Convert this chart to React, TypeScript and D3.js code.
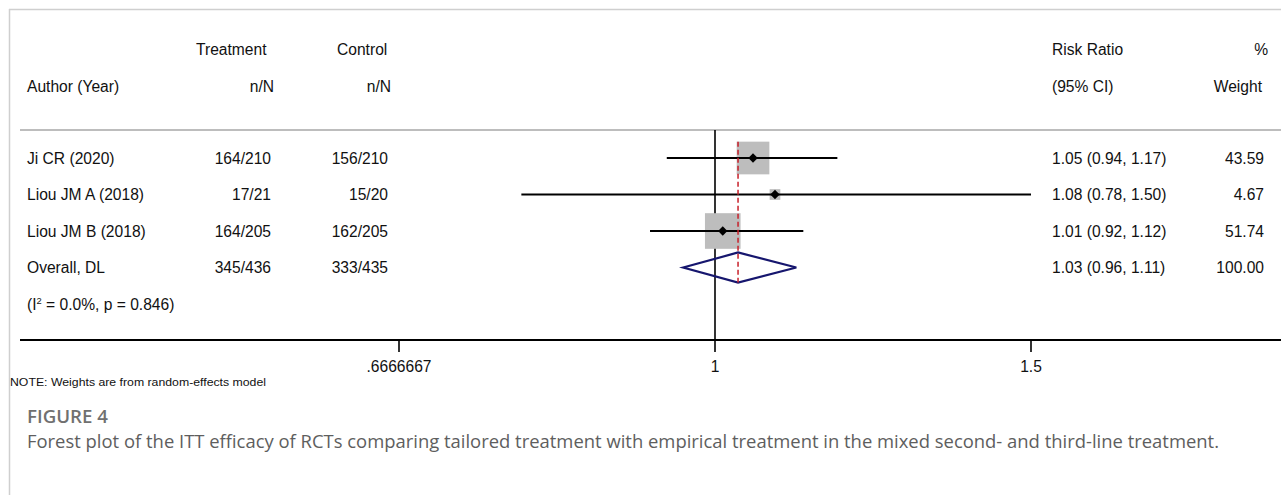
import React from "react";
import * as d3 from "d3";

// Study-level data
const studies = ["Ji CR (2020)", "Liou JM A (2018)", "Liou JM B (2018)"];
const treatmentNN = ["164/210", "17/21", "164/205"];
const controlNN = ["156/210", "15/20", "162/205"];
const riskRatio = [1.05, 1.08, 1.01];
const ciLower = [0.94, 0.78, 0.92];
const ciUpper = [1.17, 1.5, 1.12];
const weights = [43.59, 4.67, 51.74];

// Pooled (DerSimonian–Laird) estimate
const overallLabel = "Overall, DL";
const overallTreatment = "345/436";
const overallControl = "333/435";
const overallRR = 1.03;
const overallLower = 0.96;
const overallUpper = 1.11;
const overallWeight = 100.0;
const heterogeneityI2 = "0.0%";
const heterogeneityP = "0.846";

// Axis ticks
const tickValues = [2 / 3, 1, 1.5];
const tickLabels = [".6666667", "1", "1.5"];

const W = 1281;
const H = 495;
const FONT = "'Liberation Sans', Arial, Helvetica, sans-serif";
const FS = 15.6;
const CAPTION_FONT = "'Open Sans', 'Noto Sans', sans-serif";

const fmt2 = (v: number) => v.toFixed(2);

export default function App() {
  const x = d3.scaleLog().domain([2 / 3, 1.5]).range([399, 1031]);

  const headerY1 = 49;
  const headerY2 = 86;
  const sepY = 130;
  const axisY = 340;
  const rowY = d3
    .scalePoint<number>()
    .domain([0, 1, 2, 3, 4])
    .range([158, 304]);

  const boxSide = (w: number) => 4.95 * Math.sqrt(w);
  const marker = d3.symbol(d3.symbolSquare, 44)();

  const oy = rowY(3)!;
  const diamond = [
    [x(overallLower), oy],
    [x(overallRR), oy - 15],
    [x(overallUpper), oy],
    [x(overallRR), oy + 15],
  ];
  const diamondPath = d3.line()(diamond as [number, number][]) + "Z";

  const colAuthor = 27;
  const colTreat = 271;
  const colControl = 388;
  const colRR = 1052;
  const colWeight = 1264;

  const txt = (
    s: string,
    xx: number,
    yy: number,
    anchor: "start" | "end" | "middle" = "start",
    key?: string
  ) => (
    <text
      key={key}
      x={xx}
      y={yy}
      dy="0.36em"
      textAnchor={anchor}
      fontFamily={FONT}
      fontSize={FS}
      fill="#111"
    >
      {s}
    </text>
  );

  const firstTop = rowY(0)! - boxSide(weights[0]) / 2;

  return (
    <svg
      width={W}
      height={H}
      viewBox={`0 0 ${W} ${H}`}
      style={{ position: "absolute", left: 0, top: 0, background: "#fff" }}
    >
      {/* panel frame */}
      <line x1={9} y1={9.5} x2={W} y2={9.5} stroke="#cfcfcf" strokeWidth={1.5} />
      <line x1={9.5} y1={9} x2={9.5} y2={H} stroke="#cfcfcf" strokeWidth={1.5} />

      {/* column headers */}
      {txt("Treatment", 196, headerY1)}
      {txt("Control", 337, headerY1)}
      {txt("Risk Ratio", colRR, headerY1)}
      {txt("%", colWeight + 4, headerY1, "end")}
      {txt("Author (Year)", colAuthor, headerY2)}
      {txt("n/N", colTreat + 3, headerY2, "end")}
      {txt("n/N", colControl + 3, headerY2, "end")}
      {txt("(95% CI)", colRR, headerY2)}
      {txt("Weight", colWeight - 2, headerY2, "end")}

      {/* header separator */}
      <line x1={20} y1={sepY} x2={W} y2={sepY} stroke="#bdbdbd" strokeWidth={2} />

      {/* null line */}
      <line x1={x(1)} y1={sepY} x2={x(1)} y2={axisY} stroke="#000" strokeWidth={1.6} />

      {/* study rows */}
      {studies.map((s, i) => {
        const y = rowY(i)!;
        const side = boxSide(weights[i]);
        const cx = x(riskRatio[i]);
        return (
          <g key={s}>
            <rect
              x={cx - side / 2}
              y={y - side / 2}
              width={side}
              height={side}
              fill="#bdbdbd"
            />
            <line
              x1={x(ciLower[i])}
              x2={x(ciUpper[i])}
              y1={y}
              y2={y}
              stroke="#000"
              strokeWidth={2}
            />
            <path d={marker!} transform={`translate(${cx},${y}) rotate(45)`} fill="#000" />
            {txt(s, colAuthor, y)}
            {txt(treatmentNN[i], colTreat, y, "end")}
            {txt(controlNN[i], colControl, y, "end")}
            {txt(
              `${fmt2(riskRatio[i])} (${fmt2(ciLower[i])}, ${fmt2(ciUpper[i])})`,
              colRR,
              y
            )}
            {txt(fmt2(weights[i]), colWeight, y, "end")}
          </g>
        );
      })}

      {/* pooled estimate */}
      <path d={diamondPath} fill="none" stroke="#16166e" strokeWidth={2.2} strokeLinejoin="miter" />
      <line
        x1={x(overallRR)}
        x2={x(overallRR)}
        y1={firstTop}
        y2={oy + 15}
        stroke="#c8202a"
        strokeWidth={1.5}
        strokeDasharray="5,3"
      />
      {txt(overallLabel, colAuthor, oy)}
      {txt(overallTreatment, colTreat, oy, "end")}
      {txt(overallControl, colControl, oy, "end")}
      {txt(`${fmt2(overallRR)} (${fmt2(overallLower)}, ${fmt2(overallUpper)})`, colRR, oy)}
      {txt(fmt2(overallWeight), colWeight, oy, "end")}

      {/* heterogeneity */}
      <text
        x={colAuthor}
        y={rowY(4)!}
        dy="0.36em"
        fontFamily={FONT}
        fontSize={FS}
        fill="#111"
      >
        (I
        <tspan fontSize={FS * 0.6} dy="-0.55em">
          2
        </tspan>
        <tspan dy="0.33em">{` = ${heterogeneityI2}, p = ${heterogeneityP})`}</tspan>
      </text>

      {/* x axis */}
      <line x1={20} y1={axisY} x2={W} y2={axisY} stroke="#000" strokeWidth={2.2} />
      {tickValues.map((t, i) => (
        <g key={tickLabels[i]}>
          <line x1={x(t)} x2={x(t)} y1={axisY} y2={axisY + 12} stroke="#000" strokeWidth={1.6} />
          {txt(tickLabels[i], x(t), axisY + 26, "middle", "tl" + i)}
        </g>
      ))}

      {/* note */}
      <text
        x={10}
        y={382}
        dy="0.36em"
        fontFamily={FONT}
        fontSize={10.8}
        fill="#111"
        textLength={256}
        lengthAdjust="spacingAndGlyphs"
      >
        NOTE: Weights are from random-effects model
      </text>

      {/* figure caption */}
      <text
        x={27}
        y={417}
        dy="0.36em"
        fontFamily={CAPTION_FONT}
        fontSize={17.5}
        fontWeight={600}
        fill="#707070"
        textLength={81}
        lengthAdjust="spacingAndGlyphs"
      >
        FIGURE 4
      </text>
      <text
        x={27}
        y={442}
        dy="0.36em"
        fontFamily={CAPTION_FONT}
        fontSize={17.5}
        fill="#5e5e5e"
        textLength={1192}
        lengthAdjust="spacingAndGlyphs"
      >
        Forest plot of the ITT efficacy of RCTs comparing tailored treatment with empirical treatment in the mixed second- and third-line treatment.
      </text>
    </svg>
  );
}
